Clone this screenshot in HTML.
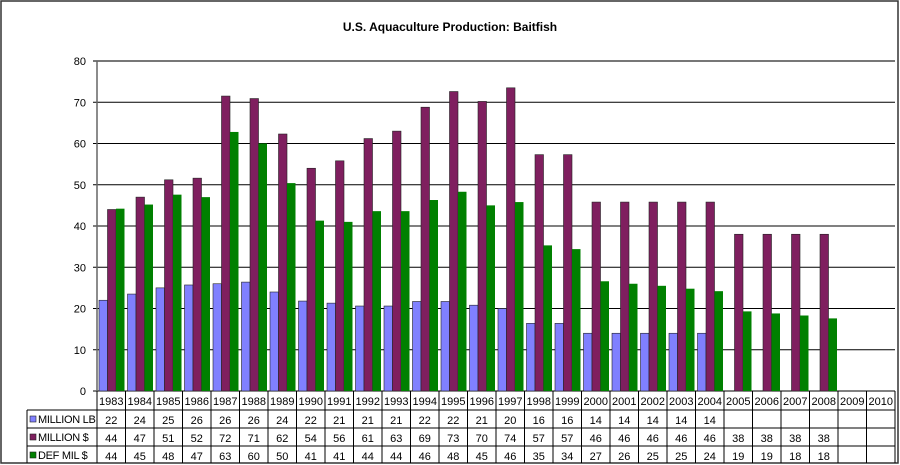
<!DOCTYPE html>
<html><head><meta charset="utf-8"><style>
body{margin:0;background:#fff}
svg{display:block;font-family:"Liberation Sans",Arial,sans-serif}
</style></head><body>
<svg id="chart" width="900" height="465">
<rect x="1" y="1" width="897" height="462" fill="#fff" stroke="#333" stroke-width="1.5"/>
<text x="450" y="31" text-anchor="middle" font-size="12" font-weight="bold">U.S. Aquaculture Production: Baitfish</text>
<g id="grid"></g><g id="bars"></g><g id="axes"></g><g id="table"></g>
</svg>
<script>
const years=["1983","1984","1985","1986","1987","1988","1989","1990","1991","1992","1993","1994","1995","1996","1997","1998","1999","2000","2001","2002","2003","2004","2005","2006","2007","2008","2009","2010"];
const millionLb=[22,23.5,25,25.7,26,26.4,24,21.8,21.3,20.6,20.6,21.7,21.7,20.8,20,16.4,16.4,14,14,14,14,14,null,null,null,null,null,null];
const millionUsd=[44,47,51.2,51.6,71.5,70.9,62.3,54,55.8,61.2,63,68.8,72.6,70.2,73.5,57.3,57.3,45.8,45.8,45.8,45.8,45.8,38,38,38,38,null,null];
const defMilUsd=[44.2,45.2,47.6,47,62.8,60,50.4,41.3,41,43.6,43.6,46.3,48.3,45,45.8,35.3,34.4,26.6,26,25.5,24.8,24.2,19.3,18.8,18.3,17.6,null,null];
const lbLabels=["22","24","25","26","26","26","24","22","21","21","21","22","22","21","20","16","16","14","14","14","14","14","","","","","",""];
const usdLabels=["44","47","51","52","72","71","62","54","56","61","63","69","73","70","74","57","57","46","46","46","46","46","38","38","38","38","",""];
const defLabels=["44","45","48","47","63","60","50","41","41","44","44","46","48","45","46","35","34","27","26","25","25","24","19","19","18","18","",""];
const yTicks=[0,10,20,30,40,50,60,70,80];
const seriesNames=["MILLION LB","MILLION $","DEF MIL $"];
const colors=["#8080ff","#7f1f5f","#008000"];

const NS="http://www.w3.org/2000/svg";
const X0=97,X1=895,Y0=391,Y1=61,YMAX=80;
const colW=(X1-X0)/years.length;
const y=v=>Y0-(v/YMAX)*(Y0-Y1);
const xc=i=>X0+i*colW;
function mk(tag,attrs,parent){const e=document.createElementNS(NS,tag);for(const k in attrs)e.setAttribute(k,attrs[k]);parent.appendChild(e);return e;}
const grid=document.getElementById('grid'),bars=document.getElementById('bars'),axes=document.getElementById('axes'),table=document.getElementById('table');

yTicks.forEach(t=>{
  const l=mk('line',{x1:X0-4,x2:X1,y1:y(t),y2:y(t),stroke:t===YMAX?'#777':'#000','stroke-width':t===YMAX?2:1},grid);
  
  
  const tx=mk('text',{x:86,y:y(t)+4,'text-anchor':'end','font-size':11},axes);
  tx.textContent=t;
  
  
});
const ax=mk('line',{x1:X0,x2:X0,y1:Y1,y2:Y0,stroke:'#666','stroke-width':1.5},axes);



const series=[millionLb,millionUsd,defMilUsd];
const bw=(colW-3)/3;
series.forEach((s,si)=>{
  s.forEach((v,i)=>{
    if(v==null)return;
    const r=mk('rect',{x:xc(i)+2+si*bw,y:y(v),width:bw,height:Y0-y(v),fill:colors[si],stroke:si===2?'none':'#222','stroke-width':0.6},bars);
    
    
  });
});

// data table
const rowsY=[391,410,428,446,463];
const labels=[lbLabels,usdLabels,defLabels];
mk('line',{x1:X0,x2:X1,y1:410,y2:410,stroke:'#000'},table);
mk('line',{x1:27,x2:X1,y1:410,y2:410,stroke:'#000'},table);
mk('line',{x1:27,x2:X1,y1:428,y2:428,stroke:'#000'},table);
mk('line',{x1:27,x2:X1,y1:446,y2:446,stroke:'#000'},table);
mk('line',{x1:27,x2:27,y1:410,y2:463,stroke:'#000'},table);
for(let i=0;i<=years.length;i++){
  mk('line',{x1:xc(i),x2:xc(i),y1:391,y2:463,stroke:'#000'},table);
}
years.forEach((yr,i)=>{
  const t=mk('text',{x:xc(i)+colW/2,y:405,'text-anchor':'middle','font-size':11},table);
  t.textContent=yr;
  
  
  labels.forEach((arr,si)=>{
    if(!arr[i])return;
    const c=mk('text',{x:xc(i)+colW/2,y:rowsY[si+1]+14,'text-anchor':'middle','font-size':11},table);
    c.textContent=arr[i];
    
    
  });
});
seriesNames.forEach((n,si)=>{
  const top=rowsY[si+1];
  const sw=mk('rect',{x:30,y:top+6,width:6,height:6,fill:colors[si],stroke:'#222','stroke-width':0.6},table);
  
  
  const t=mk('text',{x:38,y:top+13,'font-size':11,'letter-spacing':'-0.3'},table);
  t.textContent=n;
  
  
});
</script>
</body></html>
